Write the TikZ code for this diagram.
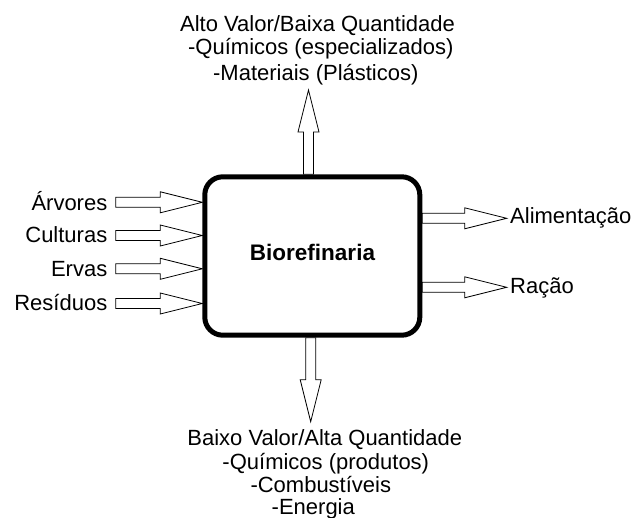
\documentclass[tikz,border=0pt]{standalone}
\usepackage{fontspec}
\setmainfont{Liberation Sans}
\usetikzlibrary{calc}
\tikzset{
  barrow/.style={draw=black, line width=0.8pt, fill=white, to path={
    let \p1=(\tikztostart), \p2=(\tikztotarget), \p3=($(\tikztotarget)!42pt!(\tikztostart)$) in
    ($(\p1)!5pt!90:(\p2)$) -- ($(\p3)!5pt!-90:(\p1)$) -- ($(\p3)!10.5pt!-90:(\p1)$) -- (\p2)
    -- ($(\p3)!10.5pt!90:(\p1)$) -- ($(\p3)!5pt!90:(\p1)$) -- ($(\p1)!5pt!-90:(\p2)$) -- cycle}},
  lbl/.style={inner sep=0pt, font=\fontsize{22}{26}\selectfont},
  procbox/.style={draw=black, line width=5pt, rounded corners=18pt, rectangle,
    minimum width=215pt, minimum height=158.4pt, inner sep=0pt, fill=white},
}
\begin{document}
\begin{tikzpicture}[x=1pt, y=-1pt]
\useasboundingbox[fill=white] (0,0) rectangle (633,518);
% central box
\node[procbox] (bio) at (312.3,256) {};
\node[inner sep=0pt, font=\fontsize{22.5}{26}\selectfont\bfseries, anchor=base] (biotext) at (312.5,260.7) {Biorefinaria};
% inputs
\node[lbl, anchor=base east] (l1) at (107.5,211) {Árvores};
\node[lbl, anchor=base east] (l2) at (107.5,242.5) {Culturas};
\node[lbl, anchor=base east] (l3) at (107.5,276.5) {Ervas};
\node[lbl, anchor=base east] (l4) at (107.5,310.5) {Resíduos};
\coordinate (c1) at (115.7,202.3);
\coordinate (c2) at (115.7,235.5);
\coordinate (c3) at (115.7,268.8);
\coordinate (c4) at (115.7,303.5);
\draw[barrow] (c1) to (bio.west |- c1);
\draw[barrow] (c2) to (bio.west |- c2);
\draw[barrow] (c3) to (bio.west |- c3);
\draw[barrow] (c4) to (bio.west |- c4);
% right outputs
\node[lbl, anchor=base west] (r1) at (510,223.3) {Alimentação};
\node[lbl, anchor=base west] (r2) at (510,293.3) {Ração};
\coordinate (d1) at (506.7,218.3);
\coordinate (d2) at (506.7,287.3);
\draw[barrow] (bio.east |- d1) to (d1);
\draw[barrow] (bio.east |- d2) to (d2);
% top output
\coordinate (tt) at (308.5,90);
\draw[barrow] (bio.north -| tt) to (tt);
\node[lbl, anchor=base] (t1) at (317.5,31.7) {Alto Valor/Baixa Quantidade};
\node[lbl, anchor=base] (t2) at (320.8,54.5) {-Químicos (especializados)};
\node[lbl, anchor=base] (t3) at (315.8,80.5) {-Materiais (Plásticos)};
% bottom output
\coordinate (bt) at (310.7,421.7);
\draw[barrow] (bio.south -| bt) to (bt);
\node[lbl, anchor=base] (b1) at (324.8,446) {Baixo Valor/Alta Quantidade};
\node[lbl, anchor=base] (b2) at (325.8,470) {-Químicos (produtos)};
\node[lbl, anchor=base] (b3) at (320.8,493) {-Combustíveis};
\node[lbl, anchor=base] (b4) at (313.3,515) {-Energia};
\end{tikzpicture}
\end{document}
